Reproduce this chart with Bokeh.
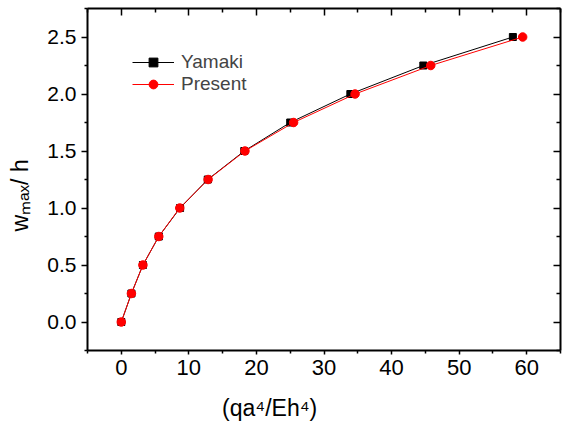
from bokeh.embed import file_html
from bokeh.models import (ColumnDataSource, FixedTicker, Legend, LegendItem,
                          LinearAxis, PrintfTickFormatter, Range1d)
from bokeh.plotting import figure
from bokeh.resources import INLINE

# Non-dimensional central deflection w_max/h against load parameter qa^4/Eh^4
deflection = [0.0, 0.25, 0.5, 0.75, 1.0, 1.25, 1.5, 1.75, 2.0, 2.25, 2.5]
load_yamaki = [0.0, 1.5, 3.2, 5.55, 8.7, 12.8, 18.2, 25.0, 33.9, 44.7, 57.95]
load_present = [0.0, 1.5, 3.2, 5.55, 8.65, 12.85, 18.3, 25.5, 34.6, 45.8, 59.4]

x_ticks = [0, 10, 20, 30, 40, 50, 60]
x_minor_ticks = [-5, 5, 15, 25, 35, 45, 55, 65]
y_ticks = [0.0, 0.5, 1.0, 1.5, 2.0, 2.5]
y_minor_ticks = [-0.25, 0.25, 0.75, 1.25, 1.75, 2.25, 2.75]

FONT = "Liberation Sans"
NBSP = "\u00a0"

p = figure(width=563, height=428,
           x_range=Range1d(-5, 65), y_range=Range1d(-0.25, 2.75),
           x_axis_type=None, y_axis_type=None,
           output_backend="svg", toolbar_location=None,
           min_border_left=87, min_border_right=3,
           min_border_top=8, min_border_bottom=78)
p.xgrid.grid_line_color = None
p.ygrid.grid_line_color = None
p.outline_line_color = None
p.background_fill_color = "white"
p.border_fill_color = "white"


def make_axis(ticks, minor, labelled, tick_out, minor_out, tick_in, minor_in, size):
    ax = LinearAxis(ticker=FixedTicker(ticks=ticks, minor_ticks=minor))
    ax.axis_line_width = 2
    ax.axis_line_color = "black"
    ax.major_tick_line_width = 1.5
    ax.minor_tick_line_width = 1.5
    ax.major_tick_out = tick_out
    ax.major_tick_in = tick_in
    ax.minor_tick_out = minor_out
    ax.minor_tick_in = minor_in
    if labelled:
        ax.major_label_text_font = FONT
        ax.major_label_text_font_size = size
        ax.major_label_text_color = "black"
        ax.major_label_standoff = 5
        ax.axis_label_text_font = FONT
        ax.axis_label_text_font_style = "normal"
        ax.axis_label_text_color = "black"
        ax.axis_label_text_font_size = "23px"
    else:
        # frame edge with inward ticks only
        ax.major_label_text_font_size = "0px"
        ax.major_label_text_color = None
        ax.major_label_standoff = 0
    return ax


bottom = make_axis(x_ticks, x_minor_ticks, True, 4, 3, 0, 0, "22px")
top = make_axis(x_ticks, x_minor_ticks, False, 0, 0, 7, 4, "0px")
left = make_axis(y_ticks, y_minor_ticks, True, 6, 3, 0, 0, "21px")
left.formatter = PrintfTickFormatter(format="%.1f")
right = make_axis(y_ticks, y_minor_ticks, False, 0, 0, 7, 4, "0px")

# trailing no-break spaces shift the visible titles off the frame centre
bottom.axis_label = "(qa\u2074/Eh\u2074)" + NBSP * 17
bottom.axis_label_standoff = 17
left.axis_label = "w\u2098\u2090\u2093/ h" + NBSP * 5
left.axis_label_standoff = 11

p.add_layout(bottom, "below")
p.add_layout(top, "above")
p.add_layout(left, "left")
p.add_layout(right, "right")

src_y = ColumnDataSource(dict(x=load_yamaki, y=deflection))
src_p = ColumnDataSource(dict(x=load_present, y=deflection))

yl = p.line("x", "y", source=src_y, line_color="black", line_width=1)
ys = p.scatter("x", "y", source=src_y, marker="square", size=7,
               fill_color="black", line_color="black")
pl = p.line("x", "y", source=src_p, line_color="red", line_width=1)
ps = p.scatter("x", "y", source=src_p, marker="circle", size=8.5,
               fill_color="red", line_color="red")

legend = Legend(items=[LegendItem(label="Yamaki", renderers=[yl, ys]),
                       LegendItem(label="Present", renderers=[pl, ps])],
                location=(45, 255), glyph_width=42, glyph_height=22,
                label_height=22, spacing=0, padding=0, margin=0,
                border_line_color=None, background_fill_alpha=0,
                label_text_font=FONT, label_text_font_size="19px",
                label_standoff=7)
p.add_layout(legend)

with open("out.html", "w") as f:
    f.write(file_html(p, INLINE))
